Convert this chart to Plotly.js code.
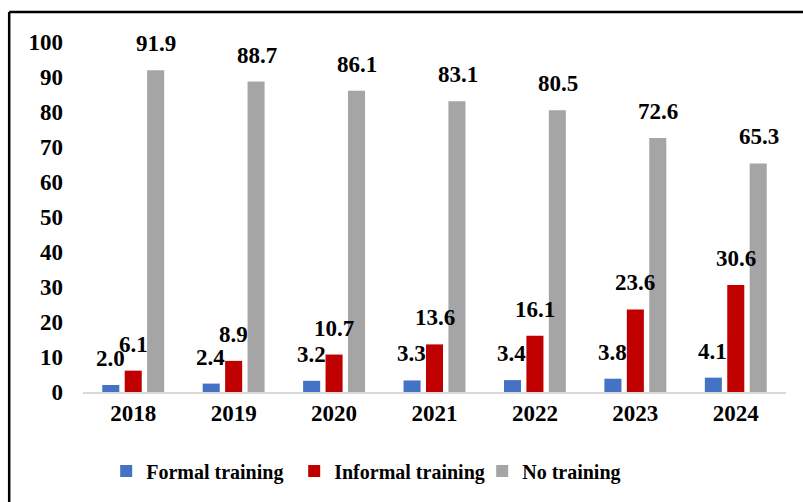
<!DOCTYPE html>
<html>
<head>
<meta charset="utf-8">
<script src="https://cdn.plot.ly/plotly-3.0.1.min.js"></script>
<style>html,body{margin:0;padding:0;background:#fff;}#chart{width:803px;height:502px;}</style>
</head>
<body>
<div id="chart"></div>
<script>
const years = ['2018','2019','2020','2021','2022','2023','2024'];
const formal = [2.0, 2.4, 3.2, 3.3, 3.4, 3.8, 4.1];
const informal = [6.1, 8.9, 10.7, 13.6, 16.1, 23.6, 30.6];
const noTraining = [91.9, 88.7, 86.1, 83.1, 80.5, 72.6, 65.3];
const seriesNames = ['Formal training', 'Informal training', 'No training'];
const colors = ['#4472C4', '#C00000', '#A5A5A5'];
const yTicks = [0,10,20,30,40,50,60,70,80,90,100];

const font = 'Liberation Serif, Times New Roman, serif';
const seriesData = [formal, informal, noTraining];
const traces = seriesData.map((vals, i) => ({
  type: 'bar', x: years, y: vals, name: seriesNames[i],
  marker: {color: colors[i]}, hoverinfo: 'skip'
}));

const shifts = [-23, 0, 23];
const annotations = [];
seriesData.forEach((vals, i) => {
  vals.forEach((v, j) => {
    annotations.push({
      x: j, y: v, xref: 'x', yref: 'y', text: '<b>' + v.toFixed(1) + '</b>',
      showarrow: false, xshift: shifts[i], yshift: 12, yanchor: 'bottom',
      font: {family: font, size: 23, color: '#000'}
    });
  });
});

const layout = {
  width: 803, height: 502,
  margin: {l: 83, r: 17, t: 42, b: 110},
  paper_bgcolor: '#fff', plot_bgcolor: '#fff',
  barmode: 'group', bargap: 0.33, bargroupgap: 0.24,
  font: {family: font, color: '#000'},
  showlegend: true,
  legend: {orientation: 'h', x: 0.033, xanchor: 'left', y: -0.226, yanchor: 'middle',
    font: {family: font, size: 20, color: '#000', weight: 'bold'}, itemwidth: 30, tracegroupgap: 0,
    entrywidth: 143, entrywidthmode: 'pixels'},
  xaxis: {type: 'category', range: [-0.5, 6.5], showgrid: false, showline: true, linecolor: '#D9D9D9', linewidth: 1.5,
    ticks: '', tickfont: {family: font, size: 23, color: '#000', weight: 'bold'}, fixedrange: true},
  yaxis: {range: [0, 100], tickvals: yTicks, showgrid: false, showline: false, zeroline: false,
    ticks: '', ticklabelstandoff: 19, tickfont: {family: font, size: 23, color: '#000', weight: 'bold'}, fixedrange: true},
  annotations: annotations,
  shapes: [
    {type: 'line', xref: 'paper', yref: 'paper', x0: -0.105, x1: -0.105, y0: 1.0857, y1: -0.4, line: {color: '#000', width: 2.5}},
    {type: 'line', xref: 'paper', yref: 'paper', x0: -0.105, x1: 1.1, y0: 1.0857, y1: 1.0857, line: {color: '#000', width: 2.5}}
  ]
};
Plotly.newPlot('chart', traces, layout, {displayModeBar: false, staticPlot: true});
</script>
</body>
</html>
